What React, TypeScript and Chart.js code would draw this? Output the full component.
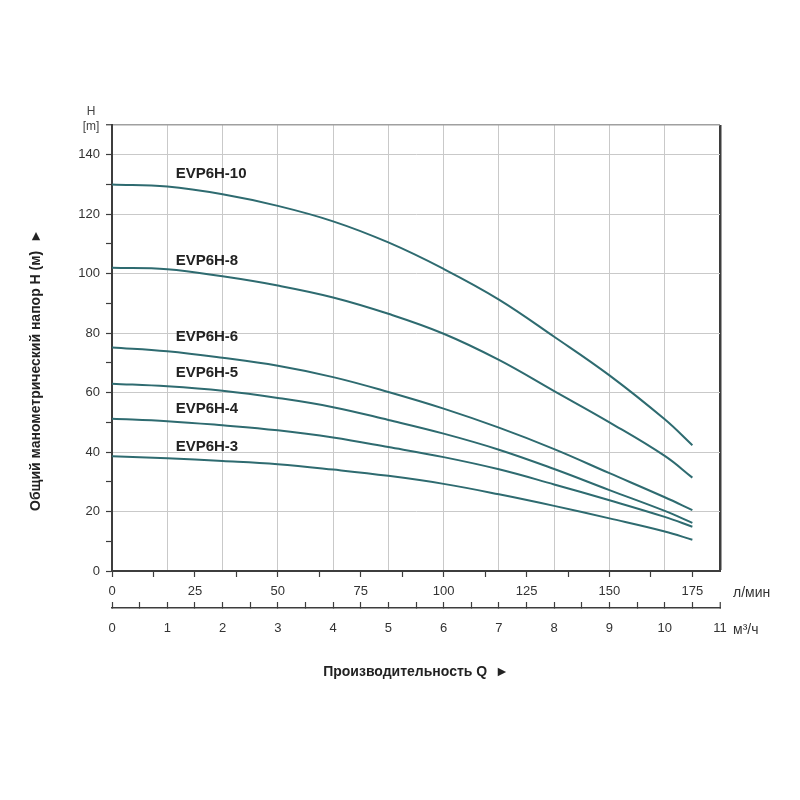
import React, { useEffect, useRef } from "react";
import { Chart, registerables } from "chart.js";

Chart.register(...registerables);

// Flow in l/min (grid every 1 m³/h = 16.67 l/min)
const FLOW_LPM = [0, 16.67, 33.33, 50, 66.67, 83.33, 100, 116.67, 133.33, 150, 166.67, 175];

const SERIES_NAMES = ["EVP6H-10", "EVP6H-8", "EVP6H-6", "EVP6H-5", "EVP6H-4", "EVP6H-3"];
const H_EVP6H_10 = [130, 129.3, 126.7, 122.8, 117.6, 110.5, 101.6, 91.3, 78.8, 65.8, 51, 42.3];
const H_EVP6H_8 = [102, 101.5, 99.1, 96, 92, 86.5, 79.8, 71, 60.5, 50, 38.7, 31.4];
const H_EVP6H_6 = [75.2, 73.9, 71.7, 69, 65.2, 60.2, 54.6, 48.2, 41, 32.9, 24.8, 20.5];
const H_EVP6H_5 = [63, 62.1, 60.6, 58.2, 55.1, 50.8, 46.2, 40.8, 34.3, 27.2, 20.2, 16.2];
const H_EVP6H_4 = [51.2, 50.4, 49, 47.3, 44.9, 41.7, 38.3, 34.2, 29.1, 23.8, 18.2, 14.9];
const H_EVP6H_3 = [38.6, 37.9, 37, 35.9, 34.1, 32, 29.3, 25.8, 21.9, 17.7, 13.3, 10.5];
const SERIES_VALUES = [H_EVP6H_10, H_EVP6H_8, H_EVP6H_6, H_EVP6H_5, H_EVP6H_4, H_EVP6H_3];

// Series name label anchors (data units: l/min, m)
const LABEL_Q = 19.2;
const LABEL_H = [133.6, 104.4, 78.6, 66.8, 54.4, 41.9];

// Axis ticks
const Y_TICKS = [0, 10, 20, 30, 40, 50, 60, 70, 80, 90, 100, 110, 120, 130, 140, 150];
const Y_LABELS = [0, 20, 40, 60, 80, 100, 120, 140];
const X_LPM_TICKS = [0, 12.5, 25, 37.5, 50, 62.5, 75, 87.5, 100, 112.5, 125, 137.5, 150, 162.5, 175];
const X_LPM_LABELS = [0, 25, 50, 75, 100, 125, 150, 175];
const X_M3H_TICKS = [0, 0.5, 1, 1.5, 2, 2.5, 3, 3.5, 4, 4.5, 5, 5.5, 6, 6.5, 7, 7.5, 8, 8.5, 9, 9.5, 10, 10.5, 11];
const X_M3H_LABELS = [0, 1, 2, 3, 4, 5, 6, 7, 8, 9, 10, 11];
const X_M3H_MAX = 11;
const LPM_PER_M3H = 1000 / 60;

const Y_TITLE = "Общий манометрический напор H (м)  ►";
const X_TITLE = "Производительность Q  ►";
const X_UNIT_LPM = "л/мин";
const X_UNIT_M3H = "м³/ч";

const FONT = "'Liberation Sans', Arial, Helvetica, sans-serif";
const LINE_COLOR = "#2e6b70";
const GRID_COLOR = "#c9c9c9";
const AXIS_COLOR = "#3d3d3d";
const TEXT_COLOR = "#333333";

const textPlugin = {
  id: "textPlugin",
  afterDraw(chart: any) {
    const { ctx, chartArea, scales } = chart;
    const xs = scales.x;
    const ys = scales.y;
    const x2 = scales.x2;
    ctx.save();
    // series labels
    ctx.fillStyle = "#222";
    ctx.font = `bold 15px ${FONT}`;
    ctx.textAlign = "left";
    ctx.textBaseline = "middle";
    SERIES_NAMES.forEach((name, i) => {
      ctx.fillText(name, xs.getPixelForValue(LABEL_Q), ys.getPixelForValue(LABEL_H[i]));
    });
    // H [m]
    ctx.fillStyle = "#444";
    ctx.font = `12px ${FONT}`;
    ctx.textAlign = "center";
    ctx.fillText("H", chartArea.left - 21, chartArea.top - 13);
    ctx.fillText("[m]", chartArea.left - 21, chartArea.top + 2);
    // units
    ctx.fillStyle = TEXT_COLOR;
    ctx.font = `14px ${FONT}`;
    ctx.textAlign = "left";
    ctx.fillText(X_UNIT_LPM, chartArea.right + 13, chartArea.bottom + 22);
    ctx.fillText(X_UNIT_M3H, chartArea.right + 13, x2.top + 22);
    // x title
    ctx.fillStyle = "#222";
    ctx.font = `bold 14px ${FONT}`;
    ctx.textAlign = "center";
    ctx.fillText(X_TITLE, (chartArea.left + chartArea.right) / 2, x2.bottom + 24);
    // y title
    ctx.translate(chartArea.left - 76, (chartArea.top + chartArea.bottom) / 2 + 22);
    ctx.rotate(-Math.PI / 2);
    ctx.fillText(Y_TITLE, 0, 0);
    ctx.restore();
  },
};

export default function App() {
  const canvasRef = useRef<HTMLCanvasElement>(null);

  useEffect(() => {
    if (!canvasRef.current) return;
    const datasets = SERIES_NAMES.map((name, i) => ({
      label: name,
      data: FLOW_LPM.map((q, j) => ({ x: q, y: SERIES_VALUES[i][j] })),
      borderColor: LINE_COLOR,
      borderWidth: 2,
      pointRadius: 0,
      tension: 0.4,
      fill: false,
      xAxisID: "x",
      yAxisID: "y",
    }));

    const tickFont = { family: FONT, size: 13 };

    const chart = new Chart(canvasRef.current, {
      type: "line",
      data: { datasets },
      plugins: [textPlugin],
      options: {
        animation: false,
        responsive: false,
        layout: { padding: { top: 125, right: 80, bottom: 152, left: 0 } },
        plugins: { legend: { display: false }, tooltip: { enabled: false } },
        scales: {
          x: {
            type: "linear",
            position: "bottom",
            weight: 0,
            min: 0,
            max: X_M3H_MAX * LPM_PER_M3H,
            afterBuildTicks: (s: any) => {
              s.ticks = X_LPM_TICKS.map((v) => ({ value: v }));
            },
            afterFit: (s: any) => {
              s.height = 37;
            },
            ticks: {
              autoSkip: false,
              maxRotation: 0,
              padding: 7,
              color: TEXT_COLOR,
              font: tickFont,
              callback: (v: any) => (X_LPM_LABELS.includes(Number(v)) ? String(v) : ""),
            },
            grid: {
              drawOnChartArea: false,
              drawTicks: true,
              tickLength: 6,
              tickColor: AXIS_COLOR,
              tickWidth: 1.2,
            },
            border: { color: AXIS_COLOR, width: 2 },
          },
          x2: {
            type: "linear",
            position: "bottom",
            weight: 1,
            min: 0,
            max: X_M3H_MAX,
            afterBuildTicks: (s: any) => {
              s.ticks = X_M3H_TICKS.map((v) => ({ value: v }));
            },
            afterFit: (s: any) => {
              s.height = 40;
            },
            ticks: {
              autoSkip: false,
              maxRotation: 0,
              padding: 19,
              color: TEXT_COLOR,
              font: tickFont,
              callback: (v: any) => (X_M3H_LABELS.includes(Number(v)) ? String(v) : ""),
            },
            grid: {
              drawOnChartArea: true,
              drawTicks: true,
              tickLength: -6,
              tickColor: AXIS_COLOR,
              tickWidth: 1.2,
              color: (c: any) => {
                const v = c.tick ? c.tick.value : -1;
                if (v === X_M3H_MAX) return AXIS_COLOR;
                if (v === 0) return "rgba(0,0,0,0)";
                return Number.isInteger(v) ? GRID_COLOR : "rgba(0,0,0,0)";
              },
              lineWidth: (c: any) => (c.tick && c.tick.value === X_M3H_MAX ? 2.5 : 1),
            },
            border: { color: AXIS_COLOR, width: 1.5 },
          },
          y: {
            type: "linear",
            position: "left",
            min: 0,
            max: 150,
            afterBuildTicks: (s: any) => {
              s.ticks = Y_TICKS.map((v) => ({ value: v }));
            },
            afterFit: (s: any) => {
              s.width = 112;
            },
            ticks: {
              autoSkip: false,
              padding: 6,
              color: TEXT_COLOR,
              font: tickFont,
              callback: (v: any) => (Y_LABELS.includes(Number(v)) ? String(v) : ""),
            },
            grid: {
              drawTicks: true,
              tickLength: 6,
              tickColor: AXIS_COLOR,
              tickWidth: 1.2,
              color: (c: any) => {
                const v = c.tick ? c.tick.value : -1;
                if (v === 150) return "#a0a0a0";
                if (v === 0) return "rgba(0,0,0,0)";
                return v % 20 === 0 ? GRID_COLOR : "rgba(0,0,0,0)";
              },
              lineWidth: (c: any) => (c.tick && c.tick.value === 150 ? 1.5 : 1),
            },
            border: { color: AXIS_COLOR, width: 2 },
          },
        },
      },
    });
    return () => chart.destroy();
  }, []);

  return (
    <div style={{ position: "fixed", left: 0, top: 0, width: 800, height: 800, background: "#fff" }}>
      <canvas ref={canvasRef} width={800} height={800} style={{ width: 800, height: 800 }} />
    </div>
  );
}
